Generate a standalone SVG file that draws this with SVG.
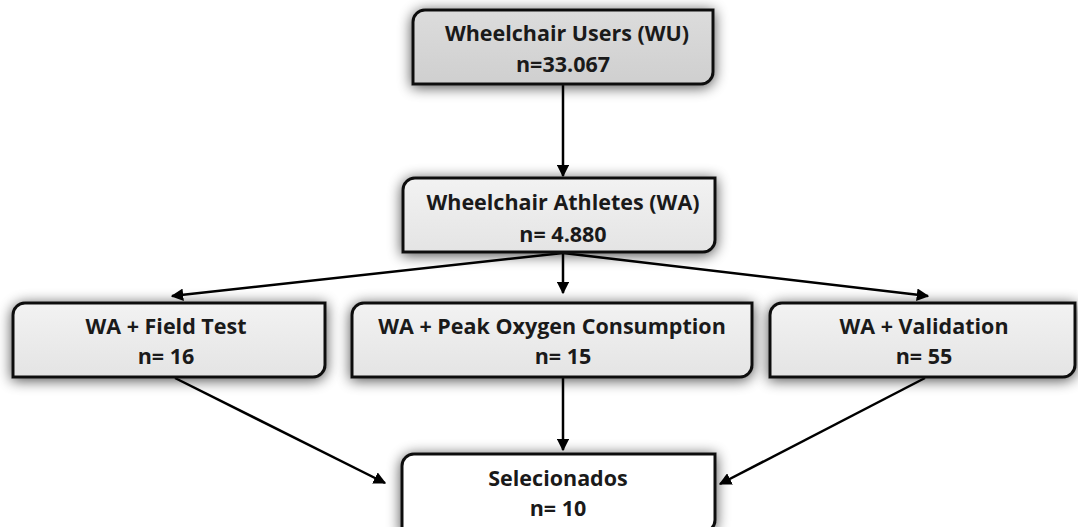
<svg xmlns="http://www.w3.org/2000/svg" width="1078" height="527" viewBox="0 0 1078 527">
<defs>
<filter id="sh" x="-20%" y="-40%" width="140%" height="180%">
<feGaussianBlur in="SourceAlpha" stdDeviation="7"/>
<feOffset dx="0" dy="2" result="b"/>
<feComponentTransfer><feFuncA type="linear" slope="0.7"/></feComponentTransfer>
<feMerge><feMergeNode/><feMergeNode in="SourceGraphic"/></feMerge>
</filter>
<linearGradient id="g1" x1="0" y1="0" x2="0" y2="1"><stop offset="0" stop-color="#dcdcdc"/><stop offset="1" stop-color="#cfcfcf"/></linearGradient>
<linearGradient id="g2" x1="0" y1="0" x2="0" y2="1"><stop offset="0" stop-color="#f2f2f2"/><stop offset="1" stop-color="#e4e4e4"/></linearGradient>
<marker id="ah" viewBox="0 0 10 10" refX="9" refY="5" markerWidth="5" markerHeight="5" orient="auto-start-reverse"><path d="M0,0 L10,5 L0,10 z" fill="#000"/></marker>
</defs>
<style>
.box{stroke:#111;stroke-width:3;filter:url(#sh)}
.t{font-family:"Open Sans","Liberation Sans",sans-serif;font-weight:700;font-size:21.5px;fill:#1a1a1a;text-anchor:middle}
.c{stroke:#000;stroke-width:2.5;fill:none;marker-end:url(#ah)}
</style>
<rect width="1078" height="527" fill="#ffffff"/>
<g id="connectors">
<line class="c" x1="563" y1="84" x2="563" y2="176"/>
<line class="c" x1="563" y1="253" x2="563" y2="293"/>
<line class="c" x1="563" y1="253" x2="172" y2="296"/>
<line class="c" x1="563" y1="253" x2="928" y2="296"/>
<line class="c" x1="175" y1="378" x2="385" y2="483"/>
<line class="c" x1="563" y1="378" x2="563" y2="450"/>
<line class="c" x1="925" y1="378" x2="720" y2="484"/>
</g>
<g id="wu">
<path class="box" fill="url(#g1)" d="M425,10 H713 V72 A12,12 0 0 1 701,84 H413 V22 A12,12 0 0 1 425,10 Z"/>
<text class="t" x="567" y="41">Wheelchair Users (WU)</text>
<text class="t" x="563" y="72">n=33.067</text>
</g>
<g id="wa">
<path class="box" fill="url(#g2)" d="M415,178 H715 V240 A12,12 0 0 1 703,252 H403 V190 A12,12 0 0 1 415,178 Z"/>
<text class="t" x="563" y="210">Wheelchair Athletes (WA)</text>
<text class="t" x="563" y="242">n= 4.880</text>
</g>
<g id="field">
<path class="box" fill="url(#g2)" d="M25,303 H325 V365 A12,12 0 0 1 313,377 H13 V315 A12,12 0 0 1 25,303 Z"/>
<text class="t" x="166" y="334">WA + Field Test</text>
<text class="t" x="166" y="364">n= 16</text>
</g>
<g id="peak">
<path class="box" fill="url(#g2)" d="M364,303 H752 V365 A12,12 0 0 1 740,377 H352 V315 A12,12 0 0 1 364,303 Z"/>
<text class="t" x="552" y="334">WA + Peak Oxygen Consumption</text>
<text class="t" x="563" y="364">n= 15</text>
</g>
<g id="valid">
<path class="box" fill="url(#g2)" d="M782,303 H1075 V365 A12,12 0 0 1 1063,377 H770 V315 A12,12 0 0 1 782,303 Z"/>
<text class="t" x="924" y="334">WA + Validation</text>
<text class="t" x="924" y="364">n= 55</text>
</g>
<g id="sel">
<path class="box" fill="#ffffff" d="M414,454 H715 V520 A12,12 0 0 1 703,532 H402 V466 A12,12 0 0 1 414,454 Z"/>
<text class="t" x="558" y="486">Selecionados</text>
<text class="t" x="558" y="516">n= 10</text>
</g>
</svg>
